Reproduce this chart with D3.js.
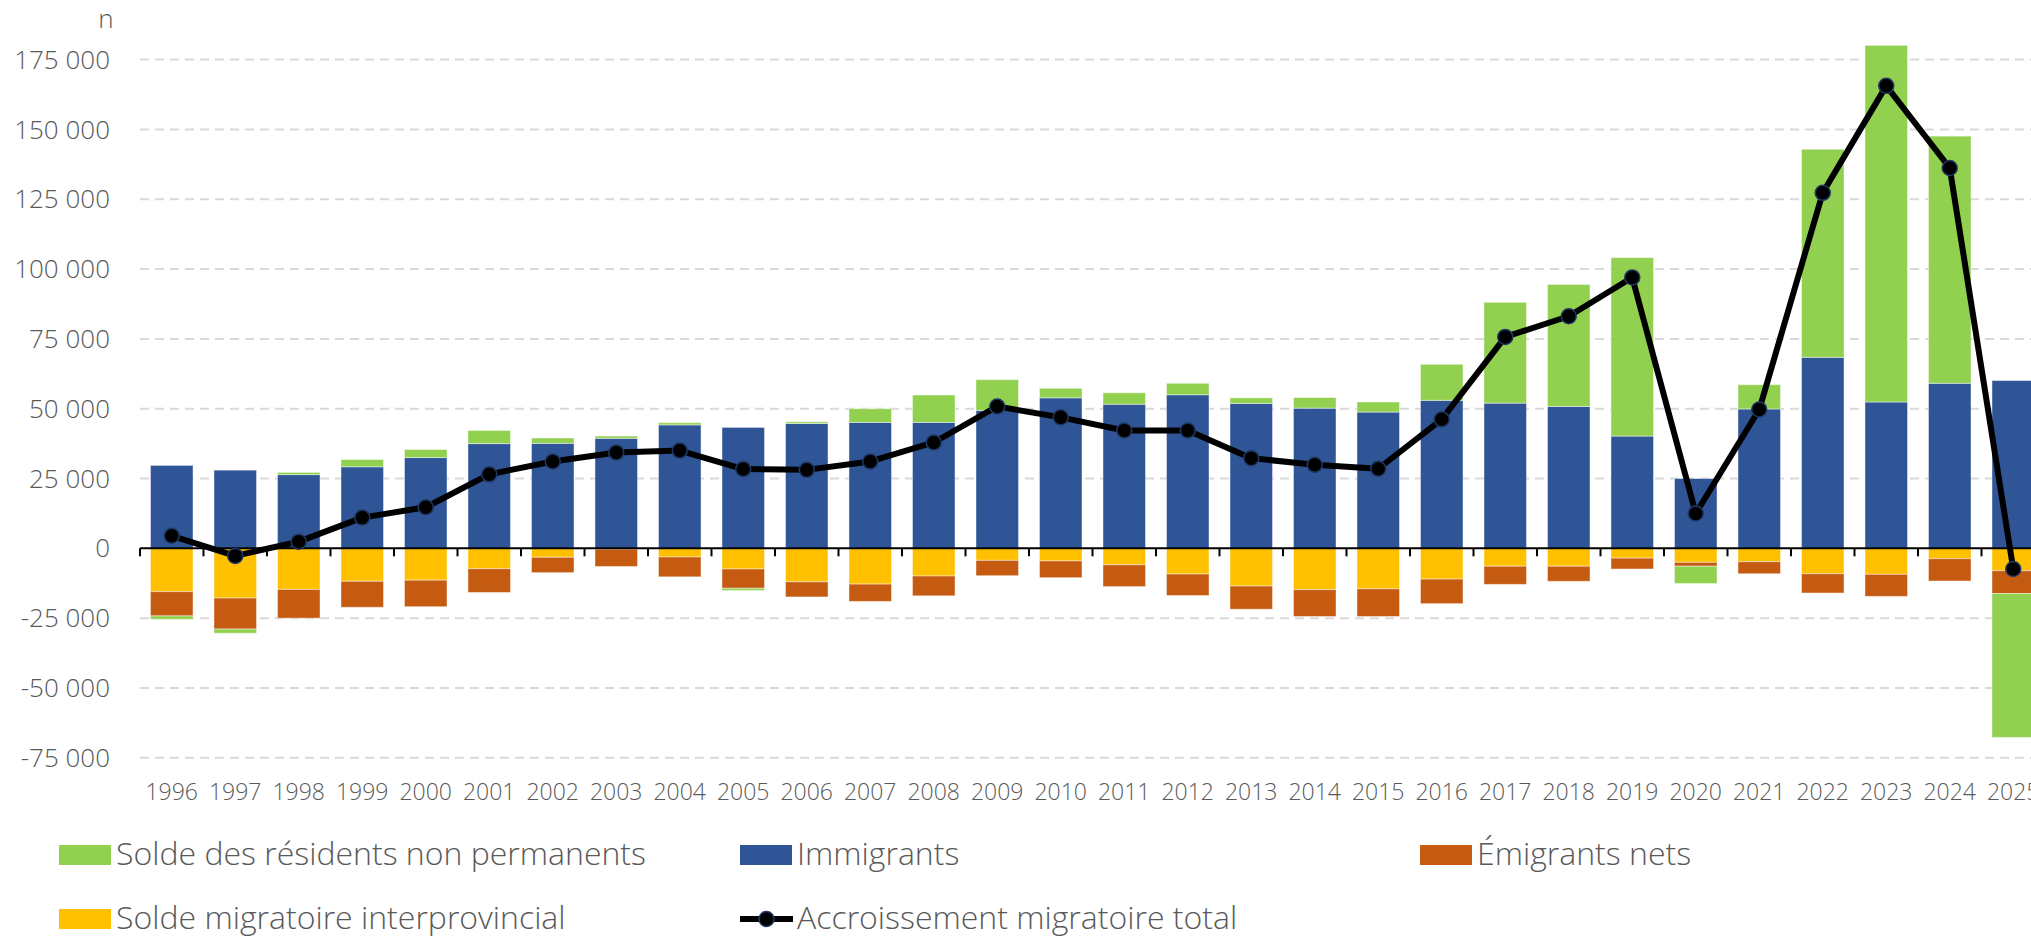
<!DOCTYPE html>
<html>
<head>
<meta charset="utf-8">
<script src="https://cdn.jsdelivr.net/npm/d3@7"></script>
<style>
  body { margin: 0; background: #ffffff; }
  svg text { font-family: "Open Sans", "DejaVu Sans", sans-serif; font-weight: 300; fill: #595959; }
</style>
</head>
<body>
<div id="chart"></div>
<script>

// annees
var years = [1996,1997,1998,1999,2000,2001,2002,2003,2004,2005,2006,2007,2008,2009,2010,
             2011,2012,2013,2014,2015,2016,2017,2018,2019,2020,2021,2022,2023,2024,2025];

// series
var immigrants = [29700,28000,26400,29200,32500,37500,37600,39400,44200,43300,44700,45100,45100,49400,53900,
                  51600,55000,51900,50200,48800,53000,52000,50800,40200,25000,49900,68400,52400,59100,60100];
var residentsNP = [-1200,-1500,800,2600,2900,4700,1900,800,800,-800,600,4900,9800,11000,3400,
                   4100,4100,2000,3800,3600,12900,36100,43700,63900,-6200,8700,74500,127700,88500,-51500];
var interprov = [-15500,-17800,-14700,-11800,-11400,-7300,-3200,-300,-3100,-7400,-12000,-12800,-9900,-4300,-4500,
                 -5900,-9200,-13500,-14800,-14500,-11000,-6400,-6400,-3500,-5000,-4800,-9100,-9300,-3700,-8000];
var emigrants = [-8700,-11100,-10300,-9300,-9500,-8500,-5500,-6200,-7100,-6900,-5400,-6200,-7100,-5500,-6000,
                 -7800,-7700,-8300,-9600,-9900,-8800,-6500,-5400,-3900,-1400,-4300,-6900,-7900,-8000,-8200];
var total = [4500,-2700,2400,11000,14700,26500,31100,34300,35000,28400,28100,31100,37900,50800,46900,
             42200,42200,32300,29900,28500,46200,75700,83100,97000,12500,49700,127300,165600,136200,-7400];

var yTicks = [-75000,-50000,-25000,0,25000,50000,75000,100000,125000,150000,175000];

var W = 2031, H = 939;

var svg = d3.select("#chart").append("svg")
    .attr("width", W)
    .attr("height", H);

// echelles
var x = d3.scaleBand()
    .domain(years)
    .range([140, 140 + 63.5 * years.length])
    .paddingInner(0.33)
    .paddingOuter(0.165);

var y = d3.scaleLinear()
    .domain([-75000, 175000])
    .range([757.8, 59.6]);

var fr = d3.formatLocale({decimal: ",", thousands: " ", grouping: [3], currency: ["", " $"], minus: "-"});
var fmt = fr.format(",d");

// grille
svg.append("g")
  .selectAll("line")
  .data(yTicks.filter(function(d) { return d != 0; }))
  .join("line")
    .attr("x1", 140).attr("x2", W)
    .attr("y1", function(d) { return y(d); })
    .attr("y2", function(d) { return y(d); })
    .attr("stroke", "#d9d9d9")
    .attr("stroke-width", 2)
    .attr("stroke-dasharray", "9,6");

// etiquettes axe y
svg.append("g")
  .selectAll("text")
  .data(yTicks)
  .join("text")
    .attr("x", 110)
    .attr("y", function(d) { return y(d); })
    .attr("dy", "0.35em")
    .attr("text-anchor", "end")
    .style("font-size", "26px")
    .text(function(d) { return fmt(d); });

svg.append("text")
  .attr("x", 106).attr("y", 28)
  .attr("text-anchor", "middle")
  .style("font-size", "26px")
  .text("n");

// barres empilees
var rows = years.map(function(yr, i) {
  return {year: yr, interprov: interprov[i], immigrants: immigrants[i], emigrants: emigrants[i], npr: residentsNP[i]};
});
var keys = ["interprov", "immigrants", "emigrants", "npr"];
var colors = {interprov: "#ffc000", immigrants: "#2f5597", emigrants: "#c55a11", npr: "#92d050"};

var stack = d3.stack().keys(keys).offset(d3.stackOffsetDiverging)(rows);

svg.append("g")
  .selectAll("g")
  .data(stack)
  .join("g")
    .attr("fill", function(d) { return colors[d.key]; })
  .selectAll("rect")
  .data(function(d) { return d; })
  .join("rect")
    .attr("x", function(d) { return x(d.data.year); })
    .attr("width", x.bandwidth())
    .attr("y", function(d) { return y(Math.max(d[0], d[1])); })
    .attr("height", function(d) { return Math.abs(y(d[0]) - y(d[1])); })
    .attr("stroke", "rgba(255,255,255,0.45)")
    .attr("stroke-width", 1);

// axe x (ligne zero + graduations)
svg.append("line")
  .attr("x1", 140).attr("x2", W)
  .attr("y1", y(0)).attr("y2", y(0))
  .attr("stroke", "#000").attr("stroke-width", 2);

svg.append("g")
  .selectAll("line")
  .data(d3.range(years.length + 1))
  .join("line")
    .attr("x1", function(i) { return 140 + i * x.step(); })
    .attr("x2", function(i) { return 140 + i * x.step(); })
    .attr("y1", y(0)).attr("y2", y(0) + 8)
    .attr("stroke", "#000").attr("stroke-width", 2);

svg.append("g")
  .selectAll("text")
  .data(years)
  .join("text")
    .attr("x", function(d) { return x(d) + x.bandwidth() / 2; })
    .attr("y", 800)
    .attr("text-anchor", "middle")
    .style("font-size", "23px")
    .text(function(d) { return d; });

// ligne accroissement total
var line = d3.line()
  .x(function(d, i) { return x(years[i]) + x.bandwidth() / 2; })
  .y(function(d) { return y(d); });

svg.append("path")
  .datum(total)
  .attr("fill", "none")
  .attr("stroke", "#000")
  .attr("stroke-width", 6)
  .attr("stroke-linejoin", "round")
  .attr("d", line);

svg.append("g")
  .selectAll("circle")
  .data(total)
  .join("circle")
    .attr("cx", function(d, i) { return x(years[i]) + x.bandwidth() / 2; })
    .attr("cy", function(d) { return y(d); })
    .attr("r", 7.5)
    .attr("fill", "#000")
    .attr("stroke", "#1f3864")
    .attr("stroke-width", 1.5);

// legende
var legend = [
  {label: "Solde des résidents non permanents", color: "#92d050", x: 59, y: 845, type: "rect"},
  {label: "Immigrants", color: "#2f5597", x: 740, y: 845, type: "rect"},
  {label: "Émigrants nets", color: "#c55a11", x: 1420, y: 845, type: "rect"},
  {label: "Solde migratoire interprovincial", color: "#ffc000", x: 59, y: 909, type: "rect"},
  {label: "Accroissement migratoire total", color: "#000", x: 740, y: 909, type: "line"}
];

var lg = svg.append("g")
  .selectAll("g")
  .data(legend)
  .join("g")
    .attr("transform", function(d) { return "translate(" + d.x + "," + d.y + ")"; });

lg.filter(function(d) { return d.type == "rect"; })
  .append("rect")
    .attr("width", 52).attr("height", 20)
    .attr("fill", function(d) { return d.color; });

var ll = lg.filter(function(d) { return d.type == "line"; });
ll.append("line")
  .attr("x1", 0).attr("x2", 53)
  .attr("y1", 10).attr("y2", 10)
  .attr("stroke", "#000").attr("stroke-width", 6);
ll.append("circle")
  .attr("cx", 26.5).attr("cy", 10).attr("r", 7.5)
  .attr("fill", "#000").attr("stroke", "#1f3864").attr("stroke-width", 1.5);

lg.append("text")
  .attr("x", 57)
  .attr("y", 20)
  .style("font-size", "32px")
  .text(function(d) { return d.label; });

</script>
</body>
</html>
